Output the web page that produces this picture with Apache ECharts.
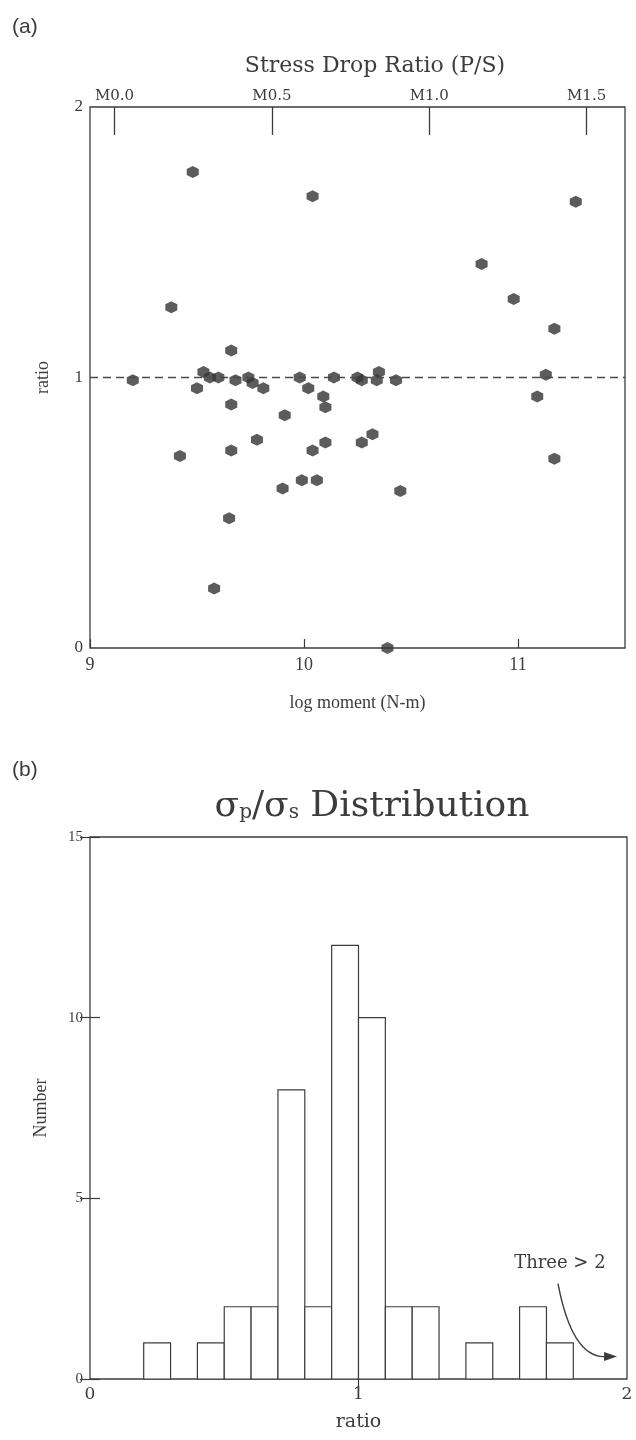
<!DOCTYPE html>
<html>
<head>
<meta charset="utf-8">
<script src="https://cdn.jsdelivr.net/npm/echarts@6/dist/echarts.min.js"></script>
<style>
html, body { margin: 0; padding: 0; background: #fff; }
#main { width: 636px; height: 1440px; }
</style>
</head>
<body>
<div id="main"></div>
<script>
// (a) stress drop ratio P/S against log moment
var logMoment = [9.48, 10.04, 9.38, 9.66, 9.20, 9.50, 9.53, 9.56, 9.60, 9.68, 9.74, 9.76, 9.81, 9.98, 10.02, 10.09,
    10.14, 10.25, 10.27, 10.35, 10.34, 10.43, 9.66, 9.91, 10.10, 9.42, 9.66, 9.78, 10.04, 10.10, 10.27, 10.32,
    9.90, 9.99, 10.06, 9.65, 9.58, 10.39, 10.45, 11.27, 10.83, 10.98, 11.17, 11.13, 11.09, 11.17];
var ratio = [1.76, 1.67, 1.26, 1.10, 0.99, 0.96, 1.02, 1.00, 1.00, 0.99, 1.00, 0.98, 0.96, 1.00, 0.96, 0.93,
    1.00, 1.00, 0.99, 1.02, 0.99, 0.99, 0.90, 0.86, 0.89, 0.71, 0.73, 0.77, 0.73, 0.76, 0.76, 0.79,
    0.59, 0.62, 0.62, 0.48, 0.22, 0.00, 0.58, 1.65, 1.42, 1.29, 1.18, 1.01, 0.93, 0.70];
var momentTicks = [9, 10, 11];
var magTicks = [0, 0.5, 1.0, 1.5];   // top axis, magnitude

// (b) histogram of sigma_p / sigma_s
var binLeft = [0, 0.1, 0.2, 0.3, 0.4, 0.5, 0.6, 0.7, 0.8, 0.9, 1.0, 1.1, 1.2, 1.3, 1.4, 1.5, 1.6, 1.7, 1.8, 1.9];
var binWidth = 0.1;
var counts = [0, 0, 1, 0, 1, 2, 2, 8, 2, 12, 10, 2, 2, 0, 1, 0, 2, 1, 0, 0];
var histXTicks = [0, 1, 2];

// note "Three > 2" with its arrow, in histogram data units
var noteText = 'Three > 2';
var notePos = [1.75, 3.2];
var arrowFrom = [1.743, 2.64];
var arrowCtrl = [1.795, 0.62];
var arrowTo = [1.963, 0.62];

var ink = '#3c3c3c';
var serif = 'Liberation Serif';
var bookman = 'DejaVu Serif';

var chart = echarts.init(document.getElementById('main'));

var pts = logMoment.map(function (x, i) { return [x, ratio[i]]; });
var bins = binLeft.map(function (b, i) { return [b, counts[i]]; });

var option = {
    backgroundColor: '#fff',
    animation: false,
    title: [
        { text: '(a)', left: 12, top: 17, padding: 0,
          textStyle: { fontFamily: 'Liberation Sans', fontSize: 21, fontWeight: 'normal', color: ink } },
        { text: 'Stress Drop Ratio (P/S)', left: 375, top: 55, textAlign: 'center', padding: 0,
          textStyle: { fontFamily: bookman, fontSize: 22, fontWeight: 'normal', color: ink } },
        { text: '(b)', left: 12, top: 760, padding: 0,
          textStyle: { fontFamily: 'Liberation Sans', fontSize: 21, fontWeight: 'normal', color: ink } },
        { text: '{g|σ}{s|p}{g|/σ}{s|s}{g| Distribution}', left: 372, top: 789, textAlign: 'center', padding: 0,
          textStyle: { fontWeight: 'normal', rich: {
              g: { fontFamily: bookman, fontSize: 36, fontWeight: 'normal', color: ink },
              s: { fontFamily: bookman, fontSize: 20, fontWeight: 'normal', color: ink, verticalAlign: 'bottom', padding: [0, 0, 2, 0] }
          } } }
    ],
    grid: [
        { left: 90, right: 11, top: 107, height: 541, show: true, borderColor: ink, borderWidth: 1.3 },
        { left: 90, right: 9, top: 837, height: 542, show: true, borderColor: ink, borderWidth: 1.3 }
    ],
    xAxis: [
        { type: 'value', gridIndex: 0, position: 'bottom', min: 9, max: 11.5,
          name: 'log moment (N-m)', nameLocation: 'middle', nameGap: 46,
          nameTextStyle: { fontFamily: serif, fontSize: 18, color: ink },
          axisLine: { show: false }, splitLine: { show: false },
          axisTick: { inside: true, length: 9, customValues: momentTicks, lineStyle: { color: ink, width: 1.2 } },
          axisLabel: { customValues: momentTicks, margin: 8, fontFamily: serif, fontSize: 18, color: ink } },
        { type: 'value', gridIndex: 0, position: 'top', min: -0.078, max: 1.622,
          axisLine: { show: false }, splitLine: { show: false },
          axisTick: { inside: true, length: 28, customValues: magTicks, lineStyle: { color: ink, width: 1.3 } },
          axisLabel: { customValues: magTicks, margin: 3, fontFamily: bookman, fontSize: 15, color: ink,
                       formatter: function (v) { return 'M' + v.toFixed(1); } } },
        { type: 'value', gridIndex: 1, position: 'bottom', min: 0, max: 2,
          name: 'ratio', nameLocation: 'middle', nameGap: 34,
          nameTextStyle: { fontFamily: bookman, fontSize: 19, color: ink },
          axisLine: { show: false }, splitLine: { show: false }, axisTick: { show: false },
          axisLabel: { customValues: histXTicks, margin: 7, fontFamily: bookman, fontSize: 17, color: ink } },
        { type: 'value', gridIndex: 1, position: 'top', min: 0, max: 2,
          axisLine: { show: false }, splitLine: { show: false }, axisLabel: { show: false },
          axisTick: { inside: true, length: 12, customValues: [1], lineStyle: { color: ink, width: 1.2 } } }
    ],
    yAxis: [
        { type: 'value', gridIndex: 0, min: 0, max: 2, interval: 1,
          name: 'ratio', nameLocation: 'middle', nameGap: 38,
          nameTextStyle: { fontFamily: serif, fontSize: 18, color: ink },
          axisLine: { show: false }, splitLine: { show: false }, axisTick: { show: false },
          axisLabel: { margin: 7, fontFamily: serif, fontSize: 17, color: ink } },
        { type: 'value', gridIndex: 1, min: 0, max: 15, interval: 5,
          name: 'Number', nameLocation: 'middle', nameGap: 40,
          nameTextStyle: { fontFamily: serif, fontSize: 18, color: ink },
          axisLine: { show: false }, splitLine: { show: false },
          axisTick: { inside: true, length: 10, lineStyle: { color: ink, width: 1.2 } },
          axisLabel: { margin: 7, fontFamily: serif, fontSize: 15, color: ink } },
        { type: 'value', gridIndex: 1, position: 'right', min: 0, max: 15, interval: 5,
          axisLine: { show: false }, splitLine: { show: false }, axisLabel: { show: false },
          axisTick: { inside: true, length: 10, lineStyle: { color: ink, width: 1.2 } } }
    ],
    series: [
        {
            type: 'scatter', xAxisIndex: 0, yAxisIndex: 0, data: pts,
            symbol: 'path://M0,-10L8.66,-5L8.66,5L0,10L-8.66,5L-8.66,-5Z', symbolSize: 12,
            itemStyle: { color: '#333' }, z: 3,
            markLine: {
                silent: true, symbol: 'none', label: { show: false },
                lineStyle: { color: '#4a4a4a', type: [8, 5], width: 1.3 },
                data: [{ yAxis: 1 }]
            }
        },
        {
            type: 'custom', xAxisIndex: 2, yAxisIndex: 1, data: bins,
            encode: { x: 0, y: 1 },
            renderItem: function (params, api) {
                var h = api.value(1);
                if (!h) return null;
                var p0 = api.coord([api.value(0), h]);
                var p1 = api.coord([api.value(0) + binWidth, 0]);
                return {
                    type: 'rect',
                    shape: { x: p0[0], y: p0[1], width: p1[0] - p0[0], height: p1[1] - p0[1] },
                    style: { fill: '#fff', stroke: ink, lineWidth: 1.2 }
                };
            }
        }
    ]
};

chart.setOption(option);

// annotation placed through the histogram axes
function px(p) {
    return [chart.convertToPixel({ xAxisIndex: 2 }, p[0]), chart.convertToPixel({ yAxisIndex: 1 }, p[1])];
}
var a0 = px(arrowFrom), ac = px(arrowCtrl), a1 = px(arrowTo), tp = px(notePos);
var ang = Math.atan2(a1[1] - ac[1], a1[0] - ac[0]);
var hl = 13, hw = 4.5;
var back = [a1[0] - hl * Math.cos(ang), a1[1] - hl * Math.sin(ang)];
chart.setOption({
    graphic: [
        { type: 'text', x: tp[0], y: tp[1],
          style: { text: noteText, fontFamily: bookman, fontSize: 18, fill: ink, align: 'center', verticalAlign: 'middle' } },
        { type: 'bezierCurve',
          shape: { x1: a0[0], y1: a0[1], cpx1: ac[0], cpy1: ac[1], x2: back[0], y2: back[1] },
          style: { stroke: ink, lineWidth: 1.4, fill: null } },
        { type: 'polygon',
          shape: { points: [a1,
              [back[0] - hw * Math.sin(ang), back[1] + hw * Math.cos(ang)],
              [back[0] + hw * Math.sin(ang), back[1] - hw * Math.cos(ang)]] },
          style: { fill: ink } }
    ]
});
</script>
</body>
</html>
